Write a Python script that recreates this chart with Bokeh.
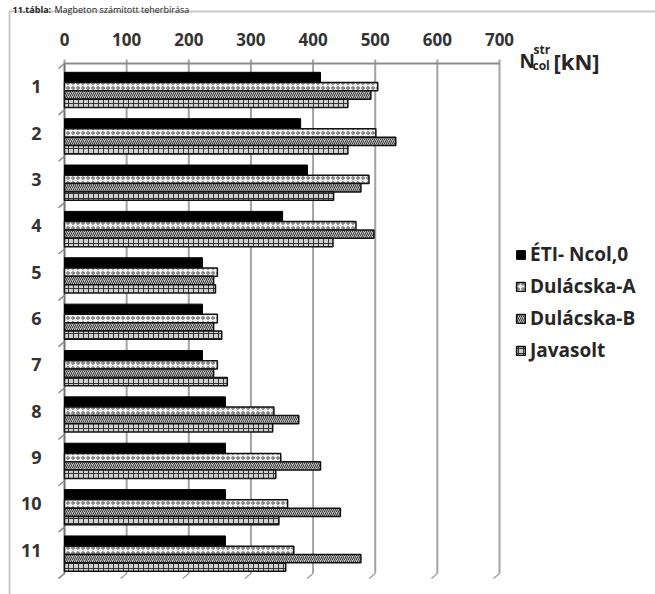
from bokeh.plotting import figure
from bokeh.models import (Range1d, Label, Legend, LegendItem, BoxAnnotation, ColumnDataSource)
from bokeh.core.properties import value
from bokeh.embed import file_html
from bokeh.resources import INLINE

# ---- data ----
categories = [1, 2, 3, 4, 5, 6, 7, 8, 9, 10, 11]
eti_ncol0 = [412, 380, 391, 351, 222, 222, 222, 259, 259, 259, 259]
dulacska_a = [504, 501, 490, 469, 246, 246, 246, 337, 348, 359, 369]
dulacska_b = [493, 533, 477, 498, 240, 240, 240, 377, 412, 444, 477]
javasolt = [456, 456, 433, 432, 243, 253, 262, 335, 340, 345, 356]
x_ticks = [0, 100, 200, 300, 400, 500, 600, 700]
category_labels = [str(c) for c in categories]
tick_labels = [str(t) for t in x_ticks]
series_names = ["ÉTI- Ncol,0", "Dulácska-A", "Dulácska-B", "Javasolt"]

FONT = "Open Sans"
W, H = 655, 594
L, R, T, B = 64, 499, 63, 573          # plot area (0..700, 0.5..11.5) in canvas pixels
PX = (R - L) / 700.0
PY = (B - T) / 11.0

def sx(px):          # canvas pixel -> data x
    return (px - L) / PX

def sy(py):          # canvas pixel -> data y (categories grow downward)
    return 0.5 + (py - T) / PY

p = figure(width=W, height=H, x_range=Range1d(sx(0), sx(W)), y_range=Range1d(sy(H), sy(0)),
           x_axis_location=None, y_axis_location=None, min_border=0,
           output_backend="svg", toolbar_location=None)
p.outline_line_color = None
p.background_fill_color = "white"
p.border_fill_color = "white"
p.xgrid.visible = False
p.ygrid.visible = False

y_top, y_bot = 0.5, 11.5
dx3, dy3 = 6 / PX, 5 / PY            # small 3-D style tick offset

# ---- value grid lines (with top tick marks and slanted bottom ends) ----
p.segment(x0=x_ticks, x1=x_ticks, y0=[y_top - 4 / PY] * len(x_ticks), y1=[y_bot] * len(x_ticks),
          line_color="#a3a3a3", line_width=2)
p.segment(x0=x_ticks, x1=[t - dx3 for t in x_ticks], y0=[y_bot] * len(x_ticks),
          y1=[y_bot + dy3] * len(x_ticks), line_color="#a3a3a3", line_width=1.5)

# top value axis line and left category axis line
p.segment(x0=[0], x1=[700], y0=[y_top], y1=[y_top], line_color="#8c8c8c", line_width=2)
p.segment(x0=[0], x1=[0], y0=[y_top], y1=[y_bot], line_color="#6e6e6e", line_width=1.5)
bounds = [c - 0.5 for c in categories] + [categories[-1] + 0.5]
p.segment(x0=[0] * len(bounds), x1=[-dx3] * len(bounds), y0=bounds, y1=[b + dy3 for b in bounds],
          line_color="#8c8c8c", line_width=1.5)

# ---- bars ----
offsets = [-0.20, 0.0, 0.18, 0.36]
heights = [0.22, 0.18, 0.18, 0.18]
series = [eti_ncol0, dulacska_a, dulacska_b, javasolt]
styles = [
    dict(fill_color="black", line_color="black", line_width=1),
    dict(fill_color="#f0f0f0", line_color="#111111", line_width=1.5,
         hatch_pattern="ring", hatch_color="#555555", hatch_scale=5, hatch_weight=1),
    dict(fill_color="#bdbdbd", line_color="#111111", line_width=1.5,
         hatch_pattern="right_diagonal_line", hatch_color="#3a3a3a", hatch_scale=4, hatch_weight=1),
    dict(fill_color="#cfcfcf", line_color="#111111", line_width=1.5,
         hatch_pattern="cross", hatch_color="#333333", hatch_scale=5, hatch_weight=1),
]
renderers = []
for vals, off, h, st in zip(series, offsets, heights, styles):
    src = ColumnDataSource(dict(y=[c + off for c in categories], right=vals))
    r = p.hbar(y="y", right="right", left=0, height=h, source=src, **st)
    renderers.append(r)

# ---- tick labels (value axis on top, categories on the left) ----
p.text(x=x_ticks, y=[sy(39)] * len(x_ticks), text=tick_labels, text_font=value(FONT),
       text_font_style="bold", text_font_size="17px", text_color="#333333",
       text_align="center", text_baseline="middle")
p.text(x=[sx(41)] * len(categories), y=categories, text=category_labels, text_font=value(FONT),
       text_font_style="bold", text_font_size="18px", text_color="#333333",
       text_align="right", text_baseline="middle")

# ---- legend ----
legend = Legend(items=[LegendItem(label=n, renderers=[r]) for n, r in zip(series_names, renderers)],
                location=(515, H - 363), padding=0, margin=0, spacing=6,
                glyph_width=11, glyph_height=11, label_height=20, label_standoff=4,
                border_line_color=None, background_fill_alpha=0,
                label_text_font=FONT, label_text_font_style="bold",
                label_text_font_size="19px", label_text_color="#262626")
p.add_layout(legend, "center")

# ---- unit label N_col^str [kN] ----
unit_parts = [("N", 519, 60, "19px"), ("col", 532, 65, "12px"), ("str", 533, 49, "12px"),
              ("[kN]", 553, 60, "22px")]
for txt, px, py, fs in unit_parts:
    p.add_layout(Label(x=sx(px), y=sy(py), text=txt, text_font=FONT,
                       text_font_style="bold", text_font_size=fs, text_color="#262626",
                       text_baseline="alphabetic", text_align="left"))

# ---- caption above the box, and the outer box ----
p.add_layout(Label(x=sx(12), y=sy(9), text="11.tábla:", text_font=FONT,
                   text_font_style="bold", text_font_size="9px", text_color="#222222",
                   text_baseline="alphabetic"))
p.add_layout(Label(x=sx(54), y=sy(9), text="Magbeton számított teherbírása", text_font=FONT,
                   text_font_size="9px", text_color="#222222", text_baseline="alphabetic"))
p.add_layout(BoxAnnotation(left=sx(9), right=sx(W + 50), top=sy(11), bottom=sy(H + 50),
                           fill_alpha=0, line_color="#4d4d4d", line_width=2, level="overlay"))

open("out.html", "w").write(file_html(p, INLINE))
